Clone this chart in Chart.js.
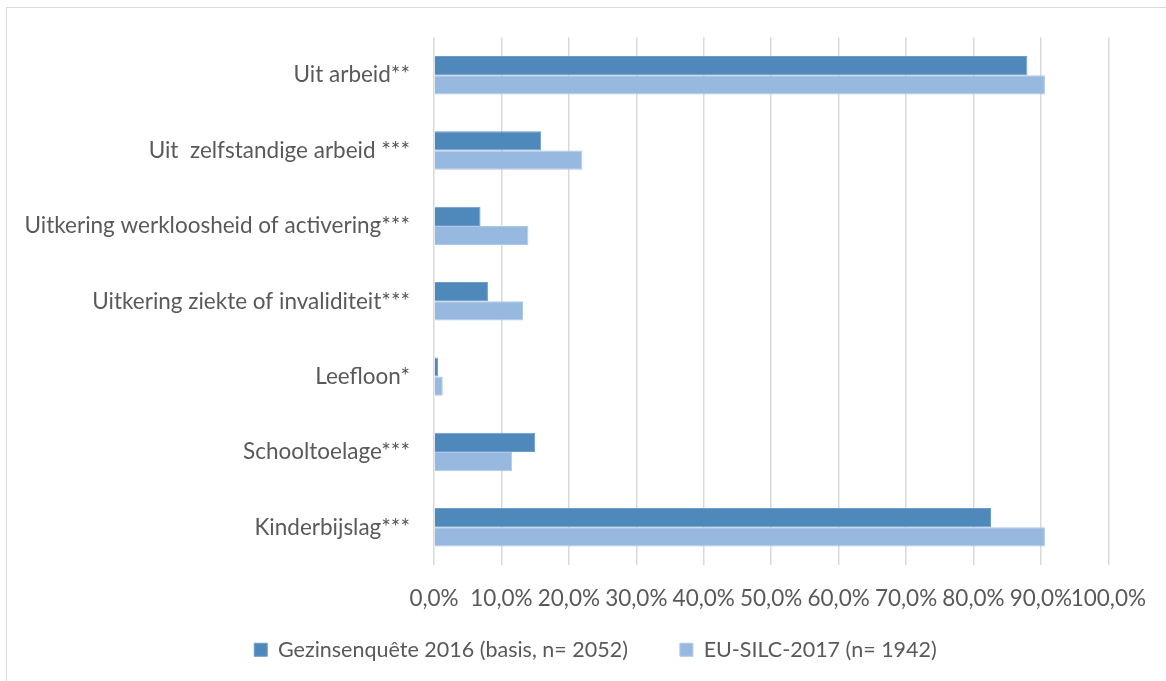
<!DOCTYPE html>
<html>
<head>
<meta charset="utf-8">
<script src="https://cdn.jsdelivr.net/npm/chart.js@4/dist/chart.umd.min.js"></script>
<style>
html,body{margin:0;padding:0;background:#fff;overflow:hidden;}
#frame{position:absolute;left:6px;top:7px;width:1180px;height:700px;border:1px solid #d9d9d9;box-sizing:border-box;}
#c{position:absolute;left:0;top:0;}
</style>
</head>
<body>
<div id="frame"></div>
<canvas id="c" width="1166" height="681"></canvas>
<script>
const categories = [
  "Uit arbeid**",
  "Uit  zelfstandige arbeid ***",
  "Uitkering werkloosheid of activering***",
  "Uitkering ziekte of invaliditeit***",
  "Leefloon*",
  "Schooltoelage***",
  "Kinderbijslag***"
];
const seriesNames = ["Gezinsenquête 2016 (basis, n= 2052)", "EU-SILC-2017 (n= 1942)"];
const gezinsenquete = [88.0, 15.9, 6.9, 8.0, 0.6, 15.0, 82.6];
const euSilc = [90.6, 22.0, 14.0, 13.2, 1.3, 11.6, 90.6];
const xTicks = [0, 10, 20, 30, 40, 50, 60, 70, 80, 90, 100];

const FONT = "Lato";
const FS = 22.5;
const TXT = "#595959";

const legendFix = {
  id: 'legendFix',
  beforeLayout(chart) {
    const lg = chart.legend;
    if (lg && !lg._patched) {
      const orig = lg.fit.bind(lg);
      lg.fit = function () { orig(); this.height = 66; };
      lg._patched = true;
    }
  },
  afterLayout(chart) {
    const lg = chart.legend;
    if (!lg) return;
    lg.top = 587; lg.bottom = 681; lg.height = 94;
    lg.left += 41; lg.right += 41;
  }
};

new Chart(document.getElementById('c'), {
  type: 'bar',
  data: {
    labels: categories,
    datasets: [
      {label: seriesNames[0], data: gezinsenquete, backgroundColor: '#4f89bc', borderColor: '#6d9cc8', borderWidth: 1, categoryPercentage: 0.51, barPercentage: 1.0},
      {label: seriesNames[1], data: euSilc, backgroundColor: '#98b9df', borderColor: '#aec8e7', borderWidth: 1, categoryPercentage: 0.51, barPercentage: 1.0}
    ]
  },
  plugins: [legendFix],
  options: {
    indexAxis: 'y',
    responsive: false,
    animation: false,
    layout: {padding: {left: 0, right: 57, top: 36, bottom: 0}},
    scales: {
      x: {
        min: 0, max: 100,
        afterBuildTicks: (s) => { s.ticks = xTicks.map(v => ({value: v})); },
        afterFit: (s) => { s.height = 50; },
        grid: {color: '#d9d9d9', lineWidth: 1.5, drawTicks: false},
        border: {display: false},
        ticks: {
          padding: 20,
          color: TXT,
          font: {family: FONT, size: FS},
          maxRotation: 0,
          autoSkip: false,
          callback: (v) => v.toFixed(1).replace('.', ',') + '%'
        }
      },
      y: {
        afterFit: (s) => { s.width = 434; },
        grid: {display: false, drawTicks: false},
        border: {display: false},
        ticks: {padding: 24, color: TXT, font: {family: FONT, size: FS}}
      }
    },
    plugins: {
      legend: {
        position: 'bottom',
        labels: {
          boxWidth: 13, boxHeight: 13, padding: 52,
          color: TXT, font: {family: FONT, size: 21.5}
        }
      },
      tooltip: {enabled: false}
    }
  }
});
</script>
</body>
</html>
